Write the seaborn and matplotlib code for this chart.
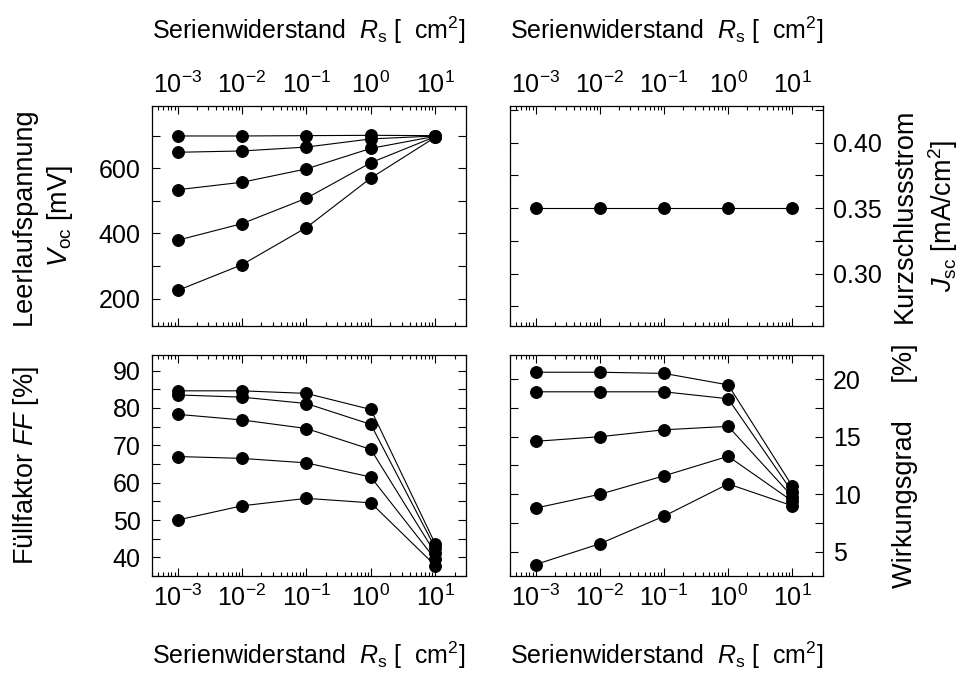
import numpy as np
import pandas as pd
import seaborn as sns
import matplotlib
matplotlib.use("Agg")
import matplotlib.pyplot as plt
from matplotlib.ticker import MultipleLocator, FixedLocator, LogLocator, FormatStrFormatter

# =============================================================================
# Data
# =============================================================================
rs_values = [1e-3, 1e-2, 1e-1, 1e0, 1e1]   # Serienwiderstand
series_names = ['S1', 'S2', 'S3', 'S4', 'S5']

voc = [
    [699, 699, 700, 701, 700],
    [649, 653, 665, 690, 699],
    [534, 557, 598, 661, 698],
    [379, 430, 508, 617, 697],
    [225, 304, 418, 570, 695],
]

jsc = [0.35, 0.35, 0.35, 0.35, 0.35]

ff = [
    [84.6, 84.6, 83.9, 79.6, 43.6],
    [83.5, 82.9, 81.2, 75.6, 42.5],
    [78.3, 76.8, 74.5, 68.9, 41.1],
    [67.0, 66.5, 65.3, 61.5, 39.5],
    [50.0, 53.8, 55.8, 54.6, 37.8],
]

eta = [
    [20.6, 20.6, 20.5, 19.5, 10.7],
    [18.9, 18.9, 18.9, 18.3, 10.2],
    [14.6, 15.0, 15.6, 15.9, 9.8],
    [8.8, 10.0, 11.6, 13.3, 9.4],
    [3.9, 5.7, 8.1, 10.9, 9.0],
]


def build_df(rows, names):
    dfs = []
    for vals, name in zip(rows, names):
        dfs.append(pd.DataFrame({'Rs': rs_values, 'value': vals, 'series': name}))
    return pd.concat(dfs, ignore_index=True)


df_voc = build_df(voc, series_names)
df_jsc = build_df([jsc], ['S1'])
df_ff = build_df(ff, series_names)
df_eta = build_df(eta, series_names)

# =============================================================================
# Style
# =============================================================================
sns.set_style('ticks')
plt.rcParams['font.family'] = ['Liberation Sans', 'DejaVu Sans']
plt.rcParams['mathtext.fontset'] = 'custom'
plt.rcParams['mathtext.rm'] = 'Liberation Sans'
plt.rcParams['mathtext.it'] = 'Liberation Sans:italic'
plt.rcParams['mathtext.bf'] = 'Liberation Sans:bold'
plt.rcParams['axes.unicode_minus'] = False
plt.rcParams['axes.linewidth'] = 0.9
for key in ['text.color', 'axes.labelcolor', 'xtick.color', 'ytick.color', 'axes.edgecolor']:
    plt.rcParams[key] = 'black'

TICK_FS = 18
LABEL_FS = 19.5
XLABEL_FS = 18

fig = plt.figure(figsize=(9.68, 6.76), dpi=100)
ax_voc = fig.add_axes([0.157, 0.5178, 0.3244, 0.3254])
ax_jsc = fig.add_axes([0.5269, 0.5178, 0.3233, 0.3254])
ax_ff = fig.add_axes([0.157, 0.1479, 0.3244, 0.327])
ax_eta = fig.add_axes([0.5269, 0.1479, 0.3233, 0.327])

line_kw = dict(x='Rs', y='value', units='series', estimator=None,
               color='black', marker='o', markersize=8.5,
               markeredgecolor='black', linewidth=0.8, legend=False)

for ax, df in [(ax_voc, df_voc), (ax_jsc, df_jsc), (ax_ff, df_ff), (ax_eta, df_eta)]:
    sns.lineplot(data=df, ax=ax, **line_kw)
    ax.set_xscale('log')
    ax.set_xlim(4e-4, 30)
    ax.xaxis.set_major_locator(LogLocator(base=10, numticks=20))
    ax.xaxis.set_minor_locator(LogLocator(base=10, subs=np.arange(2, 10), numticks=20))
    ax.tick_params(which='both', direction='in', top=True, bottom=True,
                   left=True, right=True, labelsize=TICK_FS, width=0.8)
    ax.tick_params(which='major', length=6)
    ax.tick_params(which='minor', length=3)
    ax.tick_params(axis='y', which='minor', length=6)
    ax.tick_params(axis='x', pad=6)

xlabel_txt = r'Serienwiderstand  $R_\mathrm{s}$ [  cm$^2$]'

# Top row: x labels on top
for ax in (ax_voc, ax_jsc):
    ax.tick_params(axis='x', labeltop=True, labelbottom=False)
    ax.xaxis.set_label_position('top')
    ax.set_xlabel(xlabel_txt, fontsize=XLABEL_FS)
    ax.xaxis.label.set_verticalalignment('center')
    ax.xaxis.set_label_coords(0.5, 1.345)

for ax in (ax_ff, ax_eta):
    ax.set_xlabel(xlabel_txt, fontsize=XLABEL_FS)
    ax.xaxis.label.set_verticalalignment('center')
    ax.xaxis.set_label_coords(0.5, -0.357)

# Right column: y labels on the right
for ax in (ax_jsc, ax_eta):
    ax.tick_params(axis='y', labelright=True, labelleft=False, pad=7)
    ax.yaxis.set_label_position('right')
for ax in (ax_voc, ax_ff):
    ax.tick_params(axis='y', pad=8)

# Voc panel
ax_voc.set_ylim(116, 791)
ax_voc.yaxis.set_major_locator(FixedLocator([200, 400, 600]))
ax_voc.yaxis.set_minor_locator(MultipleLocator(100))
ax_voc.set_ylabel('Leerlaufspannung\n$V_\\mathrm{oc}$ [mV]', fontsize=LABEL_FS, linespacing=1.35)

# Jsc panel
ax_jsc.set_ylim(0.26, 0.428)
ax_jsc.yaxis.set_major_locator(FixedLocator([0.30, 0.35, 0.40]))
ax_jsc.yaxis.set_minor_locator(MultipleLocator(0.025))
ax_jsc.yaxis.set_major_formatter(FormatStrFormatter('%.2f'))
ax_jsc.set_ylabel('Kurzschlussstrom\n$J_\\mathrm{sc}$ [mA/cm$^2$]', fontsize=LABEL_FS,
                  rotation=90, linespacing=1.35)

# FF panel
ax_ff.set_ylim(35, 94.2)
ax_ff.yaxis.set_major_locator(MultipleLocator(10))
ax_ff.yaxis.set_minor_locator(MultipleLocator(5))
ax_ff.set_ylabel('Füllfaktor $FF$ [%]', fontsize=LABEL_FS)

# Efficiency panel
ax_eta.set_ylim(2.9, 22.1)
ax_eta.yaxis.set_major_locator(MultipleLocator(5))
ax_eta.yaxis.set_minor_locator(MultipleLocator(2.5))
ax_eta.set_ylabel('Wirkungsgrad     [%]', fontsize=LABEL_FS, rotation=90)

for ax, xpos in [(ax_voc, -0.347), (ax_ff, -0.401), (ax_jsc, 1.329), (ax_eta, 1.262)]:
    ax.yaxis.label.set_verticalalignment('center')
    ax.yaxis.set_label_coords(xpos, 0.5)

fig.savefig('out.png', dpi=100)
